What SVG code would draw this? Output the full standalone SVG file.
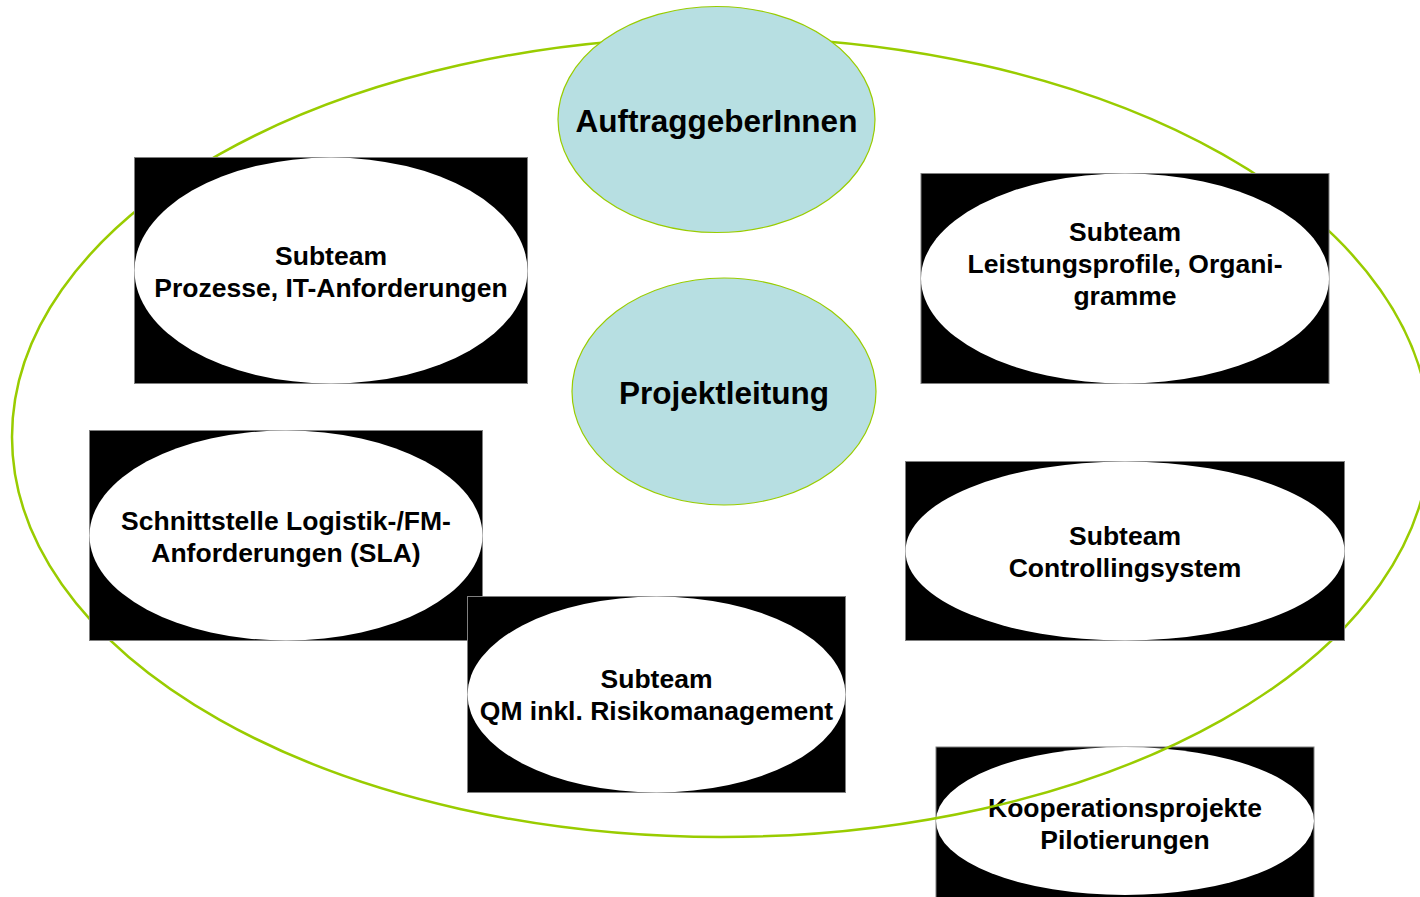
<svg xmlns="http://www.w3.org/2000/svg" width="1420" height="897" viewBox="0 0 1420 897">
<style>
.box{fill:#000;stroke:#7f7f7f;stroke-width:1}
.oval{fill:#fff;stroke:none}
.blue{fill:#b7dfe2;stroke:#99cc00;stroke-width:1.2}
.t{font-family:"Liberation Sans",Arial,sans-serif;font-weight:bold;font-size:26.5px;fill:#000;text-anchor:middle}
.tb{font-family:"Liberation Sans",Arial,sans-serif;font-weight:bold;font-size:31.5px;fill:#000;text-anchor:middle}
</style>
<rect width="1420" height="897" fill="#fff"/>
<g id="kooperation">
<rect class="box" x="936" y="747" width="378" height="152"/>
<ellipse class="oval" cx="1125" cy="821" rx="189" ry="74"/>
<text class="t" x="1125" y="817">Kooperationsprojekte</text>
<text class="t" x="1125" y="849">Pilotierungen</text>
</g>
<g id="connectors">
<ellipse cx="721" cy="437" rx="709" ry="400" fill="none" stroke="#99cc00" stroke-width="2.5"/>
</g>
<g id="auftraggeber">
<ellipse class="blue" cx="716.5" cy="119.5" rx="158.5" ry="113"/>
<text class="tb" x="716.5" y="132">AuftraggeberInnen</text>
</g>
<g id="projektleitung">
<ellipse class="blue" cx="724" cy="391.5" rx="152" ry="113.5"/>
<text class="tb" x="724" y="404">Projektleitung</text>
</g>
<g id="prozesse">
<rect class="box" x="134.5" y="157.5" width="393" height="226"/>
<ellipse class="oval" cx="331" cy="270.5" rx="196.5" ry="113"/>
<text class="t" x="331" y="265">Subteam</text>
<text class="t" x="331" y="297">Prozesse, IT-Anforderungen</text>
</g>
<g id="leistungsprofile">
<rect class="box" x="921" y="173.5" width="408" height="210"/>
<ellipse class="oval" cx="1125" cy="278.5" rx="204" ry="105"/>
<text class="t" x="1125" y="241">Subteam</text>
<text class="t" x="1125" y="273">Leistungsprofile, Organi-</text>
<text class="t" x="1125" y="305">gramme</text>
</g>
<g id="schnittstelle">
<rect class="box" x="89.5" y="430.5" width="393" height="210"/>
<ellipse class="oval" cx="286" cy="535.5" rx="196.5" ry="105"/>
<text class="t" x="286" y="530">Schnittstelle Logistik-/FM-</text>
<text class="t" x="286" y="562">Anforderungen (SLA)</text>
</g>
<g id="controlling">
<rect class="box" x="905.5" y="461.5" width="439" height="179"/>
<ellipse class="oval" cx="1125" cy="551" rx="219.5" ry="89.5"/>
<text class="t" x="1125" y="545">Subteam</text>
<text class="t" x="1125" y="577">Controllingsystem</text>
</g>
<g id="qm">
<rect class="box" x="467.5" y="596.5" width="378" height="196"/>
<ellipse class="oval" cx="656.5" cy="694.5" rx="189" ry="98"/>
<text class="t" x="656.5" y="688">Subteam</text>
<text class="t" x="656.5" y="720">QM inkl. Risikomanagement</text>
</g>
</svg>
